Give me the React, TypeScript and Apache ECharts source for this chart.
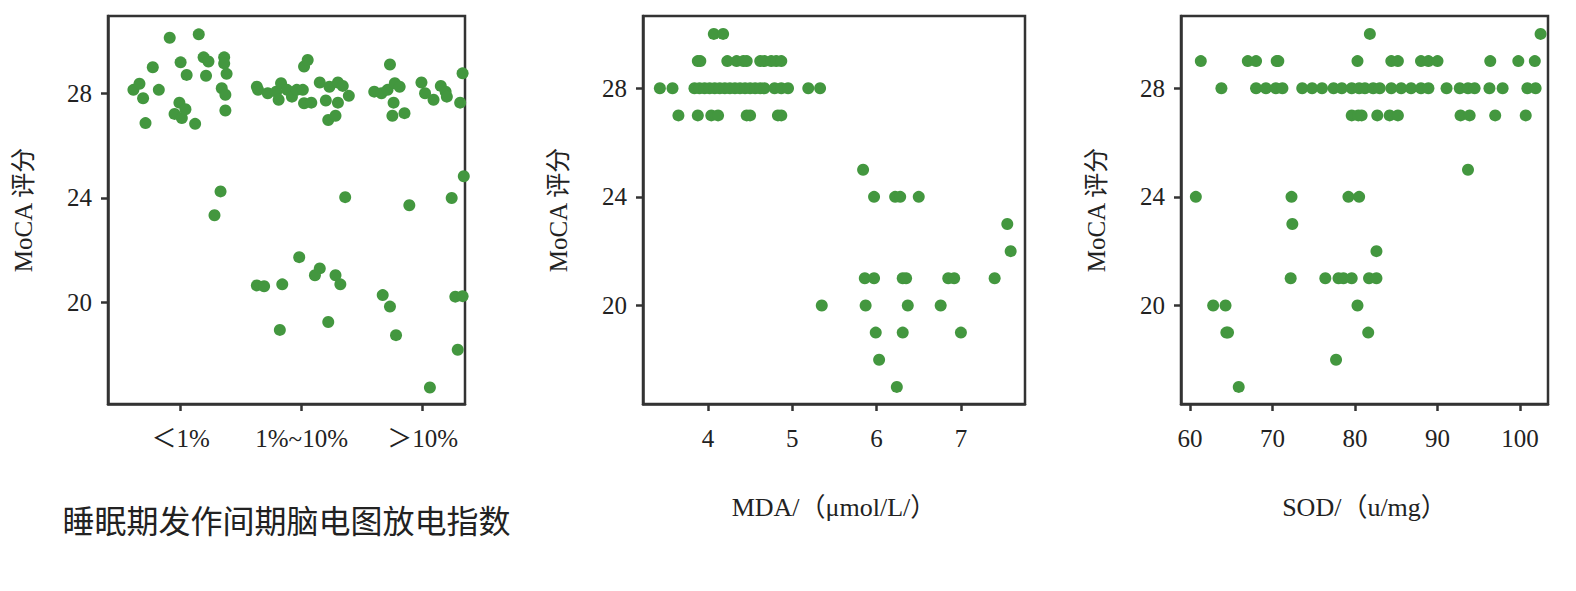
import { useRef, useEffect } from 'react'
import * as echarts from 'echarts'

const groupLabels = ['＜1%', '1%~10%', '＞10%']
const yTicks = [20, 24, 28]
const mdaTicks = [4, 5, 6, 7]
const sodTicks = [60, 70, 80, 90, 100]

// 放电指数（x 为分组位置加抖动）
const eegLow = [
  [0.61, 28.13], [0.66, 28.36], [0.69, 27.81], [0.77, 28.99], [0.82, 28.13], [0.71, 26.86], [0.91, 30.12],
  [1.0, 29.18], [1.05, 28.7], [0.99, 27.64], [0.95, 27.21], [1.01, 27.05], [1.04, 27.39], [1.12, 26.83],
  [1.15, 30.25], [1.19, 29.37], [1.23, 29.21], [1.21, 28.67], [1.36, 29.37], [1.36, 29.14], [1.38, 28.74],
  [1.34, 28.19], [1.37, 27.94], [1.37, 27.34], [1.33, 24.25], [1.28, 23.34],
]
const eegMid = [
  [1.63, 28.25], [1.64, 28.13], [1.72, 28.0], [1.79, 28.06], [1.83, 28.38], [1.81, 27.75], [1.88, 28.13],
  [1.92, 27.87], [1.96, 28.13], [2.01, 28.13], [2.02, 27.62], [2.08, 27.64], [2.02, 29.02], [2.05, 29.27],
  [2.15, 28.41], [2.23, 28.25], [2.3, 28.41], [2.34, 28.28], [2.39, 27.9], [2.2, 27.72], [2.3, 27.64],
  [2.22, 26.98], [2.28, 27.14], [1.63, 20.66], [1.69, 20.63], [1.84, 20.7], [1.98, 21.74], [2.15, 21.31],
  [2.11, 21.05], [2.28, 21.05], [2.32, 20.7], [1.82, 18.96], [2.22, 19.26], [2.36, 24.03],
]
const eegHigh = [
  [2.6, 28.06], [2.66, 28.0], [2.71, 28.13], [2.73, 29.1], [2.77, 28.38], [2.81, 28.25], [2.76, 27.64],
  [2.75, 27.14], [2.85, 27.24], [2.99, 28.41], [3.02, 28.0], [3.09, 27.75], [3.15, 28.28], [3.19, 28.06],
  [3.2, 27.87], [3.33, 28.76], [3.31, 27.64], [3.34, 24.83], [3.24, 24.0], [2.89, 23.72], [2.67, 20.29],
  [2.73, 19.85], [2.78, 18.76], [3.27, 20.23], [3.33, 20.25], [3.29, 18.2], [3.06, 16.76],
]

// MDA
const mdaData = [
  [4.07, 30], [4.18, 30],
  [3.88, 29], [3.91, 29], [4.23, 29], [4.34, 29], [4.42, 29], [4.46, 29], [4.62, 29], [4.67, 29], [4.75, 29], [4.81, 29], [4.87, 29],
  [3.43, 28], [3.58, 28], [3.84, 28], [3.9, 28], [3.96, 28], [4.02, 28], [4.08, 28], [4.14, 28], [4.2, 28], [4.26, 28],
  [4.32, 28], [4.38, 28], [4.44, 28], [4.5, 28], [4.56, 28], [4.62, 28], [4.67, 28], [4.79, 28], [4.87, 28], [4.95, 28],
  [5.19, 28], [5.33, 28],
  [3.65, 27], [3.88, 27], [4.04, 27], [4.12, 27], [4.46, 27], [4.5, 27], [4.83, 27], [4.87, 27],
  [5.84, 25], [5.97, 24], [6.22, 24], [6.28, 24], [6.5, 24], [7.55, 23], [7.59, 22],
  [5.86, 21], [5.97, 21], [6.31, 21], [6.35, 21], [6.85, 21], [6.92, 21], [7.4, 21],
  [5.35, 20], [5.87, 20], [6.37, 20], [6.76, 20], [5.99, 19], [6.31, 19], [7.0, 19], [6.03, 18], [6.24, 17],
]

// SOD
const sodData = [
  [81.8, 30], [102.5, 30],
  [61.3, 29], [67.0, 29], [68.0, 29], [70.5, 29], [70.7, 29], [80.3, 29], [84.4, 29], [85.2, 29], [88.0, 29], [88.9, 29],
  [90.0, 29], [96.4, 29], [99.8, 29], [101.8, 29],
  [63.8, 28], [68.0, 28], [69.2, 28], [70.4, 28], [71.2, 28], [73.6, 28], [74.8, 28], [76.0, 28], [77.4, 28], [78.4, 28],
  [79.6, 28], [80.5, 28], [81.2, 28], [82.2, 28], [83.0, 28], [84.4, 28], [85.6, 28], [86.8, 28], [88.0, 28], [88.9, 28],
  [91.1, 28], [92.7, 28], [93.7, 28], [94.5, 28], [96.3, 28], [97.9, 28], [100.9, 28], [101.9, 28],
  [79.6, 27], [80.4, 27], [80.8, 27], [82.7, 27], [84.2, 27], [85.2, 27], [92.8, 27], [93.9, 27], [97.0, 27], [100.7, 27],
  [93.7, 25], [60.7, 24], [72.3, 24], [79.2, 24], [80.5, 24], [72.4, 23], [82.6, 22],
  [72.2, 21], [76.4, 21], [78.0, 21], [78.6, 21], [79.6, 21], [81.7, 21], [82.6, 21],
  [62.8, 20], [64.3, 20], [80.3, 20], [64.4, 19], [64.6, 19], [81.6, 19], [77.7, 18], [65.9, 17],
]

const font = '"Liberation Serif", "DejaVu Serif", "Noto Sans CJK SC", serif'
const green = '#43973f'

function xAxisOf(gridIndex: number, min: number, max: number, ticks: number[], name: string, gap: number, nameSize: number, fmt?: (v: number) => string) {
  return {
    type: 'value', gridIndex, min, max, name, nameLocation: 'middle', nameGap: gap,
    nameTextStyle: { fontFamily: font, fontSize: nameSize, color: '#222' },
    axisLine: { show: true, onZero: false, lineStyle: { color: '#333', width: 2.5 } },
    axisTick: { show: true, length: 7, customValues: ticks, lineStyle: { color: '#333', width: 2.5 } },
    axisLabel: { customValues: ticks, margin: 22, fontFamily: font, fontSize: 25, color: '#222', formatter: fmt },
    splitLine: { show: false },
  }
}

function yAxisOf(gridIndex: number, min: number, max: number) {
  return {
    type: 'value', gridIndex, min, max, name: 'MoCA 评分', nameLocation: 'middle', nameGap: 72,
    nameTextStyle: { fontFamily: font, fontSize: 25, color: '#222' },
    axisLine: { show: true, onZero: false, lineStyle: { color: '#333', width: 2.5 } },
    axisTick: { show: true, length: 7, customValues: yTicks, lineStyle: { color: '#333', width: 2.5 } },
    axisLabel: { customValues: yTicks, margin: 16, fontFamily: font, fontSize: 25, color: '#222' },
    splitLine: { show: false },
  }
}

const scatter = (i: number, data: number[][]) => ({
  type: 'scatter', xAxisIndex: i, yAxisIndex: i, data, symbolSize: 12,
  itemStyle: { color: green, opacity: 1 },
})

export default function App() {
  const cDom = useRef<HTMLDivElement>(null)
  useEffect(() => {
    if (!cDom.current) return
    const chart = echarts.init(cDom.current, null, { renderer: 'svg' })
    const gridStyle = { show: true, borderColor: '#333', borderWidth: 2.5, backgroundColor: '#fff' }
    chart.setOption({
      animation: false,
      backgroundColor: '#fff',
      grid: [
        { left: 108, top: 16, width: 357, height: 388, ...gridStyle },
        { left: 643, top: 16, width: 382, height: 388, ...gridStyle },
        { left: 1181, top: 16, width: 367, height: 388, ...gridStyle },
      ],
      xAxis: [
        xAxisOf(0, 0.4, 3.35, [1, 2, 3], '睡眠期发作间期脑电图放电指数', 102, 32, (v: number) => groupLabels[Math.round(v) - 1] ?? ''),
        xAxisOf(1, 3.23, 7.76, mdaTicks, 'MDA/（μmol/L/）', 90, 26),
        xAxisOf(2, 58.9, 103.4, sodTicks, 'SOD/（u/mg）', 90, 26),
      ],
      yAxis: [yAxisOf(0, 16.13, 30.95), yAxisOf(1, 16.37, 30.66), yAxisOf(2, 16.37, 30.66)],
      series: [
        scatter(0, eegLow), scatter(0, eegMid), scatter(0, eegHigh),
        scatter(1, mdaData), scatter(2, sodData),
      ],
    })
    return () => chart.dispose()
  }, [])
  return <div ref={cDom} style={{ position: 'absolute', left: 0, top: 0, width: 1576, height: 591 }} />
}
